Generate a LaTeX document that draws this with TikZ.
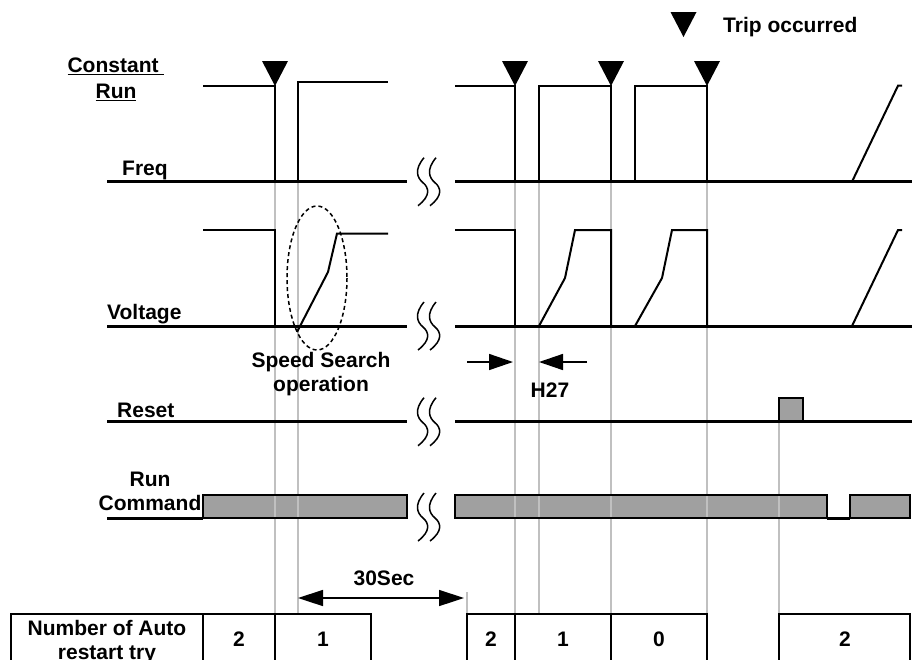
\documentclass[tikz,border=0pt]{standalone}
\usepackage{fontspec}
\setmainfont{Liberation Sans}
\usetikzlibrary{arrows.meta}
\definecolor{barfill}{RGB}{160,160,160}
\definecolor{guidegray}{RGB}{192,192,192}
\tikzset{
  trip/.pic={\fill (-13,-25) -- (13,-25) -- (0,0) -- cycle;},
  brk/.pic={
    \draw[line width=1.5pt] (-5,-24) .. controls (-15,-12) and (-12,-4) .. (-6,1) .. controls (0,6) and (2,14) .. (-11,24);
    \draw[line width=1.5pt] (7,-24) .. controls (-3,-12) and (0,-4) .. (6,1) .. controls (12,6) and (14,14) .. (1,24);
  }
}
\begin{document}
\begin{tikzpicture}[x=1pt,y=-1pt,
  lbl/.style={font=\fontsize{21}{24}\selectfont\bfseries, inner sep=0pt},
  sig/.style={line width=2pt, line join=miter},
  baseln/.style={line width=3pt},
  guide/.style={line width=1.5pt, draw=guidegray},
  barbox/.style={draw=black, line width=2pt},
  cell/.style={draw=black, line width=2pt},
  dim/.style={line width=1.5pt, -{Triangle[length=24pt,width=16pt]}},
  ]
\useasboundingbox[fill=white] (0,0) rectangle (912,659);

% bars (fill)
\fill[barfill] (203,495) rectangle (407,518);
\fill[barfill] (455,495) rectangle (827,518);
\fill[barfill] (850,495) rectangle (910,518);
\fill[barfill] (779,398) rectangle (803,421);

% guide lines
\foreach \x in {275,298,515,539,611,707} \draw[guide] (\x,183) -- (\x,614);
\draw[guide] (779,421) -- (779,614);
\draw[guide] (467,592) -- (467,614);

% bar borders
\draw[barbox] (203,495) rectangle (407,518);
\draw[barbox] (455,495) rectangle (827,518);
\draw[barbox] (850,495) rectangle (910,518);
\draw[barbox] (779,421) -- (779,398) -- (803,398) -- (803,421);

% baselines
\draw[baseln] (107,181.7) -- (407,181.7);
\draw[baseln] (455,181.7) -- (912,181.7);
\draw[baseln] (107,326) -- (407,326);
\draw[baseln] (455,326) -- (912,326);
\draw[baseln] (107,421.7) -- (407,421.7);
\draw[baseln] (455,421.7) -- (912,421.7);
\draw[baseln] (107,518) -- (203,518);
\draw[baseln] (827,518) -- (850,518);

% break marks
\pic at (429,181.7) {brk};
\pic at (429,326) {brk};
\pic at (429,421.7) {brk};
\pic at (429,517) {brk};

% frequency
\draw[sig] (203,85.7) -- (275,85.7) -- (275,181.7);
\draw[sig] (298,181.7) -- (298,81.7) -- (388,81.7);
\draw[sig] (455,85.7) -- (515,85.7) -- (515,181.7);
\draw[sig] (539,181.7) -- (539,85.7) -- (611,85.7) -- (611,181.7);
\draw[sig] (635,181.7) -- (635,85.7) -- (707,85.7) -- (707,181.7);
\draw[sig] (852,181.7) -- (898,85.7) -- (902,85.7);
\pic at (275,86) {trip};
\pic at (515,86) {trip};
\pic at (611,86) {trip};
\pic at (707,86) {trip};
\pic at (683.5,37) {trip};

% voltage
\draw[sig] (203,230) -- (275,230) -- (275,326);
\draw[sig] (297,332) -- (328,272) -- (337,233.5) -- (388,233.5);
\draw[sig] (455,230) -- (515,230) -- (515,326);
\draw[sig] (539,326) -- (565,278) -- (575,230) -- (611,230) -- (611,326);
\draw[sig] (635,326) -- (662,278) -- (672,230) -- (707,230) -- (707,326);
\draw[sig] (852,326) -- (898,230) -- (902,230);
\draw[line width=1.5pt, dash pattern=on 4pt off 3pt] (317,278) ellipse [x radius=30, y radius=72];

% dimension arrows
\coordinate (h27a) at (467,362);
\coordinate (h27b) at (513,362);
\coordinate (h27c) at (587,362);
\coordinate (h27d) at (539,362);
\draw[dim] (h27a) -- (h27b);
\draw[dim] (h27c) -- (h27d);
\coordinate (s30a) at (298,598);
\coordinate (s30b) at (464,598);
\draw[line width=1.5pt, {Triangle[length=25pt,width=16pt]}-{Triangle[length=25pt,width=16pt]}] (s30a) -- (s30b);

% table
\draw[cell] (11,670) -- (11,614) -- (371,614) -- (371,670);
\draw[cell] (203,614) -- (203,670);
\draw[cell] (275,614) -- (275,670);
\draw[cell] (467,670) -- (467,614) -- (707,614) -- (707,670);
\draw[cell] (515,614) -- (515,670);
\draw[cell] (611,614) -- (611,670);
\draw[cell] (779,670) -- (779,614) -- (910,614) -- (910,670);

% texts
\node[lbl, anchor=base west] (trip) at (723,32) {Trip occurred};
\node[lbl, anchor=north, align=center] (crun) at (116,58) {\underline{Constant\ }\\[2pt]\underline{Run}};
\node[lbl, anchor=base west] (freq) at (122,175) {Freq};
\node[lbl, anchor=base west] (volt) at (107,319) {Voltage};
\node[lbl, anchor=base west] (reset) at (117,417) {Reset};
\node[lbl, anchor=north, align=center] (runcmd) at (150,472) {Run\\Command};
\node[lbl, anchor=north, align=center] (ss) at (321,352) {Speed Search\\operation};
\node[lbl, anchor=base] (h27) at (550,397) {H27};
\node[lbl, anchor=base] (sec) at (384,585) {30Sec};
\node[lbl, anchor=north, align=center] (nat) at (107,620) {Number of Auto\\restart try};
\node[lbl, anchor=base] (n1) at (239,646) {2};
\node[lbl, anchor=base] (n2) at (323,646) {1};
\node[lbl, anchor=base] (n3) at (491,646) {2};
\node[lbl, anchor=base] (n4) at (563,646) {1};
\node[lbl, anchor=base] (n5) at (659,646) {0};
\node[lbl, anchor=base] (n6) at (845,646) {2};
\end{tikzpicture}
\end{document}
